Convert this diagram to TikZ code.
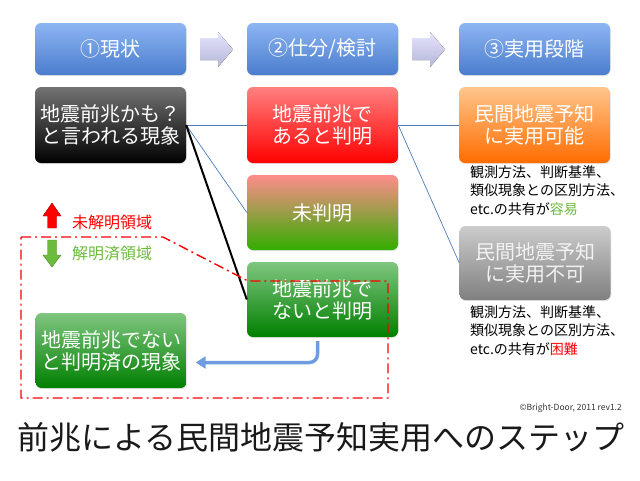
\documentclass[tikz,border=0pt]{standalone}
\usepackage{fontspec}
\setmainfont{Noto Sans CJK JP}
\usepackage{xcolor}
\usetikzlibrary{arrows.meta,positioning,shadows}
\definecolor{headtop}{HTML}{8DB5F2}
\definecolor{headbot}{HTML}{4A7DCD}
\definecolor{linkblue}{HTML}{4F7CB8}
\definecolor{okgreen}{HTML}{6CBB3C}
\definecolor{elbowblue}{HTML}{6F9BE0}

\begin{document}
\begin{tikzpicture}[x=1pt, y=-1pt,
    stage/.style={rounded corners=6pt, minimum width=151pt, minimum height=52pt, inner sep=2pt, align=center, text=white, font=\fontsize{20}{22}\selectfont, top color=headtop, bottom color=headbot, drop shadow={shadow xshift=0.8pt, shadow yshift=-1.2pt, opacity=0.2}},
    state/.style={stage, minimum height=76pt},
    flat/.style={stage, minimum height=75pt},
    chevron/.style={draw=none, top color=blue!10!white, bottom color=blue!30!gray!45!white},
    link/.style={draw=linkblue, line width=0.7pt},
    strong/.style={draw=black, line width=2pt},
    border/.style={draw=red, line width=1.4pt, dash pattern=on 10pt off 4pt on 2pt off 4pt},
    note/.style={align=left, anchor=north west, inner sep=0pt, font=\fontsize{14}{18.5}\selectfont},
    elbow/.style={draw=elbowblue, line width=3.5pt, rounded corners=8pt, -{Triangle[width=12pt,length=10pt]}}
]
\useasboundingbox (0,0) rectangle (640,480);

% Stage headers
\node[stage] (now) at (110.5, 49) {①現状};
\node[stage] (sort) at (322.5, 49) {②仕分/検討};
\node[stage] (use) at (534.5, 49) {③実用段階};

% Chevrons between headers
\foreach \x in {200, 412}
  \fill[chevron] (\x,38) -- (\x+18,38) -- (\x+18,32) -- (\x+33,49.5) -- (\x+18,67) -- (\x+18,60) -- (\x,60) -- cycle;

% Phenomena and results
\node[state, top color=black!55, bottom color=black] (maybe) at (110.5, 125) {地震前兆かも？\\と言われる現象};
\node[state, top color=red!50!white, bottom color=red] (yes) at (322.5, 125) {地震前兆で\\あると判明};
\node[state, top color=orange!45!white, bottom color=orange!85!red] (ok) at (534.5, 125) {民間地震予知\\に実用可能};
\node[flat, top color=red!45!white, bottom color=green!60!black!80!yellow] (unk) at (322.5, 212.5) {未判明};
\node[flat, top color=green!55!black!50!white, bottom color=green!50!black] (no) at (322.5, 299.5) {地震前兆で\\ないと判明};
\node[flat, top color=green!55!black!50!white, bottom color=green!50!black] (done) at (111, 350.5) {地震前兆でない\\と判明済の現象};
\node[flat, minimum height=74pt, top color=black!20, bottom color=black!50, text=black!5] (ng) at (535, 263) {民間地震予知\\に実用不可};

% Notes under the right column
\node[note] (oknote) at (470, 165) {観測方法、判断基準、\\類似現象との区別方法、\\etc.の共有が\textcolor{okgreen}{容易}};
\node[note] (ngnote) at (470, 305) {観測方法、判断基準、\\類似現象との区別方法、\\etc.の共有が\textcolor{red}{困難}};

% Links
\draw[link] (maybe.east) -- (yes.west);
\draw[link] (maybe.east) -- (unk.west);
\draw[strong] (maybe.east) -- (no.west);
\draw[link] (yes.east) -- (ok.west);
\draw[link] (yes.east) -- (ng.west);

% Known region
\draw[border] (21,237) -- (163,237) -- (248,281) -- (388,281) -- (388,398) -- (21,398) -- cycle;
\draw[elbow] ([xshift=-5pt,yshift=-4pt]no.south) |- ([xshift=9pt,yshift=-12pt]done.east);

% Region legend
\fill[red, draw=red!60!black, line width=0.4pt] (52,203) -- (61,216) -- (56.5,216) -- (56.5,228) -- (47.5,228) -- (47.5,216) -- (43,216) -- cycle;
\fill[okgreen, draw=okgreen!70!black, line width=0.4pt] (52,267) -- (61,255) -- (56.5,255) -- (56.5,240) -- (47.5,240) -- (47.5,255) -- (43,255) -- cycle;
\node[anchor=west, inner sep=0pt, text=red, font=\fontsize{16}{16}\selectfont] (open) at (72,222) {未解明領域};
\node[anchor=west, inner sep=0pt, text=okgreen, font=\fontsize{16}{16}\selectfont] (known) at (72,253) {解明済領域};

% Credit and title
\node[anchor=east, inner sep=0pt, text=black!80, font=\fontsize{8.5}{9}\selectfont] (credit) at (622,408) {©Bright-Door, 2011 rev1.2};
\node[anchor=west, inner sep=0pt, text=black!90, font=\fontsize{32}{34}\selectfont] (title) at (17,437) {前兆による民間地震予知実用へのステップ};

\end{tikzpicture}
\end{document}
